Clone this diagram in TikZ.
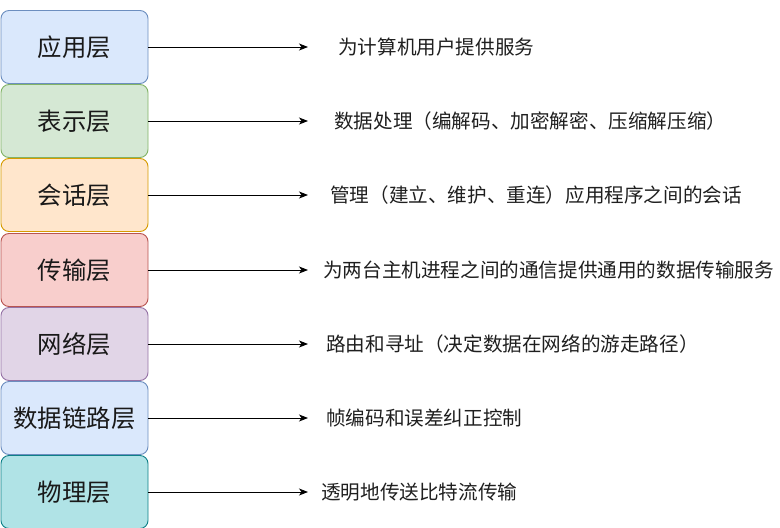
\documentclass[tikz,border=0pt]{standalone}
\usepackage{fontspec}
\newfontfamily\cjk{Noto Sans CJK SC}
\usetikzlibrary{arrows.meta}

\definecolor{bluefill}{HTML}{DAE8FC}
\definecolor{bluedraw}{HTML}{6C8EBF}
\definecolor{greenfill}{HTML}{D5E8D4}
\definecolor{greendraw}{HTML}{82B366}
\definecolor{orangefill}{HTML}{FFE6CC}
\definecolor{orangedraw}{HTML}{D79B00}
\definecolor{redfill}{HTML}{F8CECC}
\definecolor{reddraw}{HTML}{B85450}
\definecolor{purplefill}{HTML}{E1D5E7}
\definecolor{purpledraw}{HTML}{9673A6}
\definecolor{tealfill}{HTML}{B0E3E6}
\definecolor{tealdraw}{HTML}{0E8088}

\tikzset{
  layer/.style={rounded corners=8pt, line width=0.9pt, minimum width=147pt,
    minimum height=73pt, inner sep=0pt,
    font=\cjk\fontsize{24.4}{29}\selectfont, text=black!90},
  desc/.style={anchor=west, inner sep=0pt,
    font=\cjk\fontsize{19.6}{24}\selectfont, text=black!88},
  arrow/.style={line width=0.9pt, -{Stealth[length=9pt,width=7pt,inset=2.5pt]}}
}

\begin{document}
\begin{tikzpicture}[x=1pt,y=-1pt]
    \useasboundingbox (0,0) rectangle (780,528);

    % Layers
    \node[layer, fill=bluefill, draw=bluedraw] (app) at (74.5,47) {应用层};
    \node[layer, fill=greenfill, draw=greendraw] (pres) at (74.5,121) {表示层};
    \node[layer, fill=orangefill, draw=orangedraw] (sess) at (74.5,195) {会话层};
    \node[layer, fill=redfill, draw=reddraw] (trans) at (74.5,270) {传输层};
    \node[layer, fill=purplefill, draw=purpledraw] (net) at (74.5,344) {网络层};
    \node[layer, fill=bluefill, draw=bluedraw] (link) at (74.5,418) {数据链路层};
    \node[layer, fill=tealfill, draw=tealdraw] (phys) at (74.5,492) {物理层};

    % Arrow ends
    \coordinate (append) at (308,47);
    \coordinate (presend) at (308,121);
    \coordinate (sessend) at (308,195);
    \coordinate (transend) at (308,270);
    \coordinate (netend) at (308,344);
    \coordinate (linkend) at (308,418);
    \coordinate (physend) at (308,492);

    % Descriptions
    \node[desc] (appdesc) at (338,47) {为计算机用户提供服务};
    \node[desc] (presdesc) at (334,121) {数据处理（编解码、加密解密、压缩解压缩）};
    \node[desc] (sessdesc) at (330,195) {管理（建立、维护、重连）应用程序之间的会话};
    \node[desc] (transdesc) at (323,270) {为两台主机进程之间的通信提供通用的数据传输服务};
    \node[desc] (netdesc) at (326,344) {路由和寻址（决定数据在网络的游走路径）};
    \node[desc] (linkdesc) at (326,418) {帧编码和误差纠正控制};
    \node[desc] (physdesc) at (321,492) {透明地传送比特流传输};

    % Arrows
    \draw[arrow] (app.east) -- (append);
    \draw[arrow] (pres.east) -- (presend);
    \draw[arrow] (sess.east) -- (sessend);
    \draw[arrow] (trans.east) -- (transend);
    \draw[arrow] (net.east) -- (netend);
    \draw[arrow] (link.east) -- (linkend);
    \draw[arrow] (phys.east) -- (physend);
\end{tikzpicture}
\end{document}
